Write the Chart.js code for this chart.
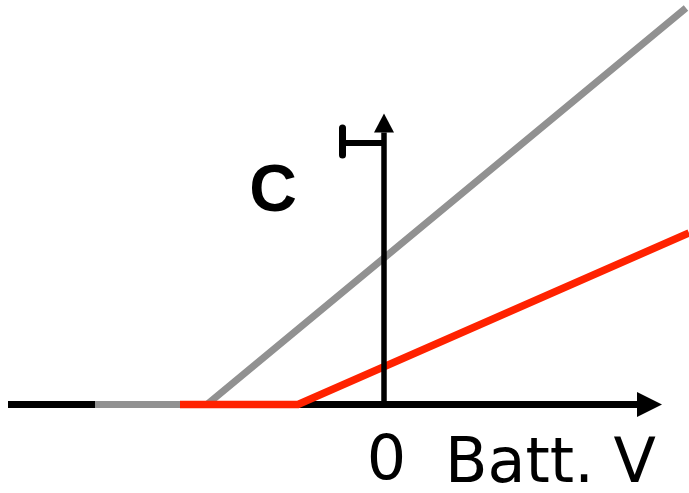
<!DOCTYPE html>
<html>
<head>
<meta charset="utf-8">
<title>C vs Batt. V</title>
<script src="https://cdn.jsdelivr.net/npm/chart.js"></script>
<style>
  html, body { margin: 0; padding: 0; background: #fff; }
  #chart { display: block; }
</style>
</head>
<body>
<canvas id="chart" width="689" height="493"></canvas>
<script>
// x = battery voltage (0 at the vertical axis), y = C (0 at the horizontal axis)
var axisHX = [-7.52, 5.06];
var axisHY = [0, 0];
var axisVX = [0, 0];
var axisVY = [0, 5.44];
var grayX = [-5.78, -3.54, 6.04];
var grayY = [0, 0, 7.93];
var redX = [-4.08, -1.72, 6.1];
var redY = [0, 0, 3.43];
var markBarX = [-0.83, 0];
var markBarY = [5.23, 5.23];
var markCapX = [-0.83, -0.83];
var markCapY = [4.99, 5.53];
var labels = ['C', '0', 'Batt. V'];
var labelX = [-2.22, 0.05, 1.22];
var labelY = [3.87, -1.49, -1.55];

function points(xs, ys) {
  let out = [];
  for (var i = 0; i < xs.length; i++) {
    out.push({x: xs[i], y: ys[i]});
  }
  return out;
}

function line(data, color, width, order, extra) {
  return Object.assign({
    data: data,
    showLine: true,
    borderColor: color,
    backgroundColor: color,
    borderWidth: width,
    pointRadius: 0,
    pointHoverRadius: 0,
    tension: 0,
    fill: false,
    order: order,
    clip: false
  }, extra || {});
}

// filled arrow head at the last point of a dataset, pointing along its last segment
var arrowHeads = {
  id: 'arrowHeads',
  afterDatasetsDraw(chart) {
    let ctx = chart.ctx;
    chart.data.datasets.forEach(function(ds, i) {
      if (!ds.arrow) return;
      let pts = chart.getDatasetMeta(i).data;
      let a = pts[pts.length - 2];
      let b = pts[pts.length - 1];
      let ang = Math.atan2(b.y - a.y, b.x - a.x);
      ctx.save();
      ctx.translate(b.x, b.y);
      ctx.rotate(ang);
      ctx.beginPath();
      ctx.moveTo(ds.arrow.len, 0);
      ctx.lineTo(0, -ds.arrow.half);
      ctx.lineTo(0, ds.arrow.half);
      ctx.closePath();
      ctx.fillStyle = ds.borderColor;
      ctx.fill();
      ctx.restore();
    });
  }
};

var axisLabels = {
  id: 'axisLabels',
  afterDraw(chart, args, opts) {
    let ctx = chart.ctx;
    let xs = chart.scales.x;
    let ys = chart.scales.y;
    ctx.save();
    ctx.fillStyle = '#000';
    ctx.textBaseline = 'alphabetic';
    for (var i = 0; i < labels.length; i++) {
      ctx.font = opts.fonts[i];
      ctx.textAlign = opts.align[i];
      ctx.fillText(labels[i], xs.getPixelForValue(labelX[i]), ys.getPixelForValue(labelY[i]));
    }
    ctx.restore();
  }
};

var ctx = document.getElementById('chart').getContext('2d');
var chart = new Chart(ctx, {
  type: 'scatter',
  data: {
    datasets: [
      line(points(axisHX, axisHY), '#000000', 7, 5, {arrow: {len: 25, half: 12.5}}),
      line(points(grayX, grayY), 'rgb(145,145,145)', 7, 4),
      line(points(redX, redY), 'rgb(255,34,0)', 7.5, 3),
      line(points(axisVX, axisVY), '#000000', 5.5, 2, {arrow: {len: 19, half: 10}}),
      line(points(markBarX, markBarY), '#000000', 6, 1),
      line(points(markCapX, markCapY), '#000000', 7, 0, {borderCapStyle: 'round'})
    ]
  },
  options: {
    responsive: false,
    animation: false,
    events: [],
    layout: { padding: 0 },
    scales: {
      x: { type: 'linear', min: -7.68, max: 6.1, display: false },
      y: { type: 'linear', min: -1.77, max: 8.09, display: false }
    },
    plugins: {
      legend: { display: false },
      tooltip: { enabled: false },
      axisLabels: {
        fonts: ['bold 66px "Liberation Sans"', '62px "DejaVu Sans"', '62px "DejaVu Sans"'],
        align: ['center', 'center', 'left']
      }
    }
  },
  plugins: [arrowHeads, axisLabels]
});
</script>
</body>
</html>
